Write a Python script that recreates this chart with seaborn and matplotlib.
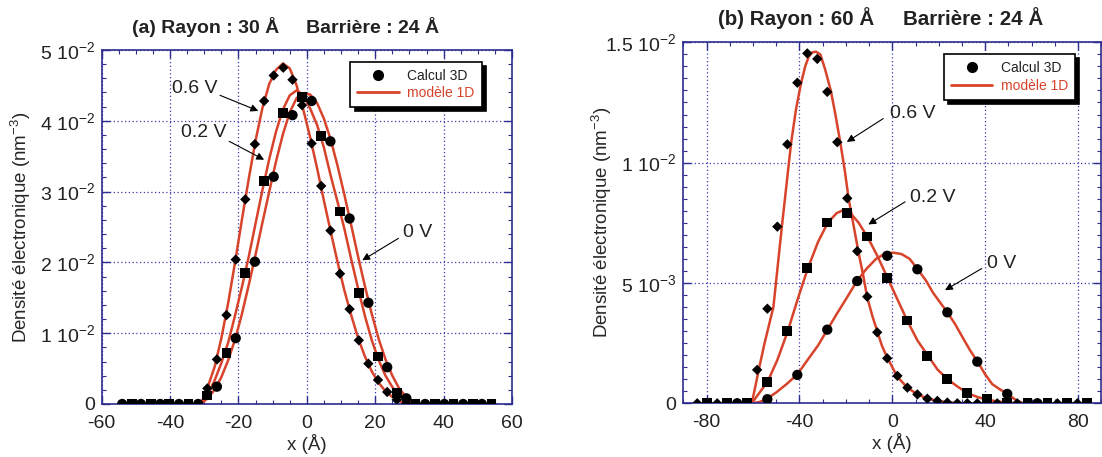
import numpy as np
import pandas as pd
import matplotlib
matplotlib.use("Agg")
import matplotlib.pyplot as plt
from matplotlib.ticker import MultipleLocator
from matplotlib.lines import Line2D
import seaborn as sns

# ---------------- data: panel (a) Rayon 30 A ----------------
a_diam_x = [-54.0, -51.2, -48.5, -45.7, -42.9, -40.2, -37.4, -34.6, -31.8, -29.1,
            -26.3, -23.5, -20.8, -18.0, -15.2, -12.5, -9.7, -6.9, -4.2, -1.4,
            1.4, 4.2, 6.9, 9.7, 12.5, 15.2, 18.0, 20.8, 23.5, 26.3,
            29.1, 31.8, 34.6, 37.4, 40.2, 42.9, 45.7, 48.5, 51.2, 54.0]
a_diam_y = [0, 0, 0, 0, 0, 0, 0, 0, 0, 0.0022,
            0.0063, 0.01256, 0.0204, 0.0289, 0.0367, 0.0428, 0.0464, 0.0475, 0.0458, 0.0422,
            0.0368, 0.0308, 0.0245, 0.0184, 0.0134, 0.0090, 0.0057, 0.0034, 0.0017, 0.0006,
            0.0001, 0, 0, 0, 0, 0, 0, 0, 0, 0]
a_circ_x = [-54.0, -48.5, -42.9, -37.4, -31.8, -26.3, -20.8, -15.2, -9.7, -4.2,
            1.4, 6.9, 12.5, 18.0, 23.5, 29.1, 34.6, 40.2, 45.7, 51.2]
a_circ_y = [0, 0, 0, 0, 0, 0.00245, 0.0093, 0.0201, 0.0321, 0.0408,
            0.0428, 0.0371, 0.0262, 0.0143, 0.0052, 0.0008, 0, 0, 0, 0]
a_sq_x = [-51.2, -45.7, -40.2, -34.6, -29.1, -23.5, -18.0, -12.5, -6.9, -1.4,
          4.2, 9.7, 15.2, 20.8, 26.3, 31.8, 37.4, 42.9, 48.5, 54.0]
a_sq_y = [0, 0, 0, 0, 0.0012, 0.00725, 0.01855, 0.0315, 0.0411, 0.0434,
          0.0378, 0.0272, 0.0157, 0.0067, 0.0016, 0, 0, 0, 0, 0]

a_model_x = [-31, -29, -27, -25, -23, -21, -19, -17, -15, -13, -11, -9, -7, -5, -3, -1,
             1, 3, 5, 7, 9, 11, 13, 15, 17, 19, 21, 23, 25, 27, 29, 31]
a_model_06 = [0.0, 0.0024, 0.0052, 0.0093, 0.0143, 0.0200, 0.0260, 0.0318, 0.0372, 0.0418,
              0.0452, 0.0472, 0.0481, 0.0474, 0.0450, 0.0415, 0.0376, 0.0333, 0.0287, 0.0243,
              0.0200, 0.0160, 0.0125, 0.0093, 0.0067, 0.0046, 0.0030, 0.0018, 0.0010, 0.0004,
              0.0001, 0.0]
a_model_02 = [0.0, 0.0013, 0.0033, 0.0058, 0.0087, 0.0125, 0.0165, 0.0208, 0.0255, 0.0302,
              0.0346, 0.0385, 0.0416, 0.0436, 0.0443, 0.0436, 0.0417, 0.0394, 0.0362, 0.0322,
              0.0285, 0.0247, 0.0204, 0.0163, 0.0124, 0.0090, 0.0062, 0.0040, 0.0024, 0.0012,
              0.0005, 0.0001]
a_model_00 = [0.0, 0.0008, 0.0020, 0.0038, 0.0062, 0.0091, 0.0127, 0.0168, 0.0211, 0.0256,
              0.0300, 0.0343, 0.0381, 0.0412, 0.0432, 0.0439, 0.0437, 0.0425, 0.0403, 0.0373,
              0.0336, 0.0295, 0.0252, 0.0208, 0.0166, 0.0127, 0.0092, 0.0063, 0.0040, 0.0022,
              0.0010, 0.0002]

# ---------------- data: panel (b) Rayon 60 A ----------------
b_diam_x = [-84.0, -79.7, -75.4, -71.1, -66.8, -62.5, -58.2, -53.8, -49.5, -45.2,
            -40.9, -36.6, -32.3, -28.0, -23.7, -19.4, -15.1, -10.8, -6.5, -2.2,
            2.2, 6.5, 10.8, 15.1, 19.4, 23.7, 28.0, 32.3, 36.6, 40.9,
            45.2, 49.5, 53.8, 58.2, 62.5, 66.8, 71.1, 75.4, 79.7, 84.0]
b_diam_y = [0, 0, 0, 0, 0, 0, 0.00139, 0.00393, 0.00734, 0.01076,
            0.01332, 0.01454, 0.01431, 0.01294, 0.01085, 0.00852, 0.00632, 0.00443, 0.00295, 0.00187,
            0.00114, 0.00065, 0.00037, 0.00019, 0.0001, 0.00003, 0, 0, 0, 0,
            0, 0, 0, 0, 0, 0, 0, 0, 0, 0]
b_circ_x = [-79.7, -66.8, -53.8, -40.9, -28.0, -15.1, -2.2, 10.8, 23.7, 36.6, 49.5, 62.5, 75.4]
b_circ_y = [0, 0, 0.00017, 0.00118, 0.00306, 0.00508, 0.00613, 0.00557, 0.00378, 0.00173,
            0.00039, 0, 0]
b_sq_x = [-79.7, -71.1, -62.5, -53.8, -45.2, -36.6, -28.0, -19.4, -10.8, -2.2,
          6.5, 15.1, 23.7, 32.3, 40.9, 49.5, 58.2, 66.8, 75.4, 84.0]
b_sq_y = [0, 0, 0, 0.00087, 0.00302, 0.00562, 0.00751, 0.00791, 0.00693, 0.00522,
          0.00344, 0.00197, 0.001, 0.00042, 0.00017, 0.00003, 0, 0, 0, 0]

b_m06_x = [-60.5, -59.2, -57.5, -55.0, -51.2, -47.6, -43.6, -41.5, -39.3, -37.5, -36.0, -34.5,
           -32.9, -31.0, -29.0, -26.5, -24.5, -22.5, -20.5, -18.8, -16.5, -14.6, -12.5, -10.8,
           -8.5, -6.5, -4.5, -2.2, 0.0, 2.2, 6.5, 10.8, 15.1, 19.4, 23.7, 28.0, 32.0]
b_m06_y = [0.0, 0.0006, 0.0014, 0.0025, 0.0040, 0.0073, 0.0108, 0.0122, 0.0133, 0.0140, 0.0144, 0.01458,
           0.01461, 0.0145, 0.0139, 0.0130, 0.0120, 0.0109, 0.0097, 0.0085, 0.0073, 0.0063, 0.0053, 0.0044,
           0.0036, 0.0030, 0.0024, 0.0019, 0.0015, 0.0011, 0.00065, 0.00037, 0.0002, 0.0001, 0.00004, 0.00001, 0.0]
b_m02_x = [-60.5, -57.5, -53.7, -49.5, -45.0, -40.5, -36.4, -32.0, -27.8, -24.0, -21.1, -18.0,
           -14.5, -10.6, -6.3, -2.0, 2.3, 6.6, 10.9, 15.2, 19.5, 23.8, 28.0, 32.4, 37.0, 41.0,
           45.0, 49.6, 54.0, 58.0]
b_m02_y = [0.0, 0.0004, 0.0009, 0.0018, 0.0030, 0.0044, 0.0056, 0.0067, 0.0075, 0.0079, 0.00803, 0.0079,
           0.0075, 0.0069, 0.0061, 0.0052, 0.0043, 0.0034, 0.0026, 0.0020, 0.0014, 0.0010, 0.0007, 0.00042,
           0.00025, 0.00015, 0.00008, 0.00003, 0.00001, 0.0]
b_m00_x = [-60.5, -57.0, -53.8, -50.0, -45.5, -40.9, -36.5, -32.0, -28.0, -24.0, -19.5, -15.1,
           -11.0, -7.0, -3.5, 0.4, 4.0, 7.5, 10.9, 14.5, 17.5, 20.5, 23.7, 27.0, 30.5, 33.5,
           36.7, 40.0, 43.0, 46.0, 49.6, 53.0, 56.4]
b_m00_y = [0.0, 0.00006, 0.0002, 0.00045, 0.0008, 0.0012, 0.0018, 0.0024, 0.00305, 0.0037, 0.0044, 0.0051,
           0.0056, 0.0060, 0.0062, 0.00626, 0.0062, 0.0060, 0.00557, 0.0051, 0.0046, 0.0042, 0.00378, 0.0033,
           0.0027, 0.0022, 0.00173, 0.0012, 0.0008, 0.0006, 0.00039, 0.00015, 0.0]

a_yticks = [0, 0.01, 0.02, 0.03, 0.04, 0.05]
a_yticklabels = ["0", "1 10$^{-2}$", "2 10$^{-2}$", "3 10$^{-2}$", "4 10$^{-2}$", "5 10$^{-2}$"]
a_xticks = [-60, -40, -20, 0, 20, 40, 60]
b_yticks = [0, 0.005, 0.01, 0.015]
b_yticklabels = ["0", "5 10$^{-3}$", "1 10$^{-2}$", "1.5 10$^{-2}$"]
b_xticks = [-80, -40, 0, 40, 80]

# ---------------- style ----------------
sns.set_style("white")
plt.rcParams["font.family"] = ["Liberation Sans", "DejaVu Sans"]
plt.rcParams["mathtext.fontset"] = "custom"
plt.rcParams["mathtext.rm"] = "Liberation Sans"
plt.rcParams["mathtext.it"] = "Liberation Sans"

RED = "#d8432b"
SPINE = "#2e2e8f"
GRID = "#3b3bb0"

W, H = 1102, 457
fig = plt.figure(figsize=(W / 100, H / 100), dpi=100)

def px_axes(l, t, r, b):
    return fig.add_axes([l / W, (H - b) / H, (r - l) / W, (b - t) / H])

ax1 = px_axes(101.7, 50, 512, 404)
ax2 = px_axes(683.3, 42.3, 1101.3, 403.3)


def style_axes(ax, xlim, ylim, xticks, xminor, yticks, ylabels, yminor):
    ax.set_xlim(*xlim)
    ax.set_ylim(*ylim)
    ax.set_xticks(xticks)
    ax.set_xticklabels([str(t) for t in xticks])
    ax.xaxis.set_minor_locator(MultipleLocator(xminor))
    ax.set_yticks(yticks)
    ax.set_yticklabels(ylabels)
    ax.yaxis.set_minor_locator(MultipleLocator(yminor))
    ax.tick_params(which="both", direction="in", top=True, right=True, bottom=True, left=True,
                   color=SPINE, labelsize=14, labelcolor="#222222")
    ax.tick_params(which="major", length=6, width=1)
    ax.tick_params(axis="x", which="major", pad=8)
    ax.tick_params(axis="y", which="major", pad=5)
    ax.tick_params(which="minor", length=3, width=0.8)
    for s in ax.spines.values():
        s.set_color(SPINE)
        s.set_linewidth(1.2)
        s.set_visible(True)
    ax.grid(True, which="major", linestyle=(0, (1, 2)), color=GRID, linewidth=0.9)
    ax.set_axisbelow(True)
    ax.set_xlabel("x (Å)", fontsize=13.5, labelpad=1)
    ax.set_ylabel("Densité électronique (nm$^{-3}$)", fontsize=13.5)


def draw_panel(ax, models, dx, dy, cx, cy, sx, sy):
    for mx, my in models:
        sns.lineplot(x=mx, y=my, ax=ax, color=RED, linewidth=1.8, sort=False,
                     estimator=None, zorder=2)
    sns.scatterplot(x=dx, y=dy, ax=ax, marker="D", s=28, color="black",
                    edgecolor="none", linewidth=0, zorder=3)
    sns.scatterplot(x=cx, y=cy, ax=ax, marker="o", s=55, color="black",
                    edgecolor="none", linewidth=0, zorder=4)
    sns.scatterplot(x=sx, y=sy, ax=ax, marker="s", s=50, color="black",
                    edgecolor="none", linewidth=0, zorder=5)


draw_panel(ax1, [(a_model_x, a_model_06), (a_model_x, a_model_02), (a_model_x, a_model_00)],
           a_diam_x, a_diam_y, a_circ_x, a_circ_y, a_sq_x, a_sq_y)
draw_panel(ax2, [(b_m06_x, b_m06_y), (b_m02_x, b_m02_y), (b_m00_x, b_m00_y)],
           b_diam_x, b_diam_y, b_circ_x, b_circ_y, b_sq_x, b_sq_y)

style_axes(ax1, (-60, 60), (0, 0.05), a_xticks, 5, a_yticks, a_yticklabels, 0.002)
style_axes(ax2, (-90, 90), (0, 0.015), b_xticks, 10, b_yticks, b_yticklabels, 0.0005)

ax1.yaxis.set_label_coords(-0.168, 0.5, transform=ax1.transAxes)
ax2.yaxis.set_label_coords(-0.166, 0.5, transform=ax2.transAxes)

# legends
def add_legend(ax, anchor):
    handles = [Line2D([], [], marker="o", linestyle="none", color="black", markersize=7),
               Line2D([], [], color=RED, linewidth=2)]
    leg = ax.legend(handles, ["Calcul 3D", "modèle 1D"], loc="upper right",
                    bbox_to_anchor=anchor, fontsize=10, handlelength=3.0,
                    fancybox=False, frameon=True, edgecolor="black",
                    shadow={"color": "black", "alpha": 1.0, "ox": 3, "oy": -3},
                    borderpad=0.5, labelspacing=0.25, handletextpad=0.6,
                    borderaxespad=0)
    leg.get_frame().set_linewidth(1.2)
    leg.get_texts()[0].set_color("#222222")
    leg.get_texts()[1].set_color(RED)
    leg.set_zorder(10)

add_legend(ax1, (0.926, 0.967))
add_legend(ax2, (0.937, 0.967))

# annotations
arrow = dict(arrowstyle="-|>", color="black", lw=0.8, mutation_scale=11,
             shrinkA=0, shrinkB=0)
def label(ax, txt, tx, ty, ax0, ay0, ax1_, ay1_):
    ax.text(tx, ty, txt, fontsize=14, ha="left", va="center", color="#222222", zorder=8)
    ax.annotate("", xy=(ax1_, ay1_), xytext=(ax0, ay0), arrowprops=arrow, zorder=8)

label(ax1, "0.6 V", -39.4, 0.0446, -25.4, 0.0436, -14.2, 0.0414)
label(ax1, "0.2 V", -36.7, 0.0383, -22.7, 0.0371, -12.5, 0.0345)
label(ax1, "0 V", 28.2, 0.0242, 26.8, 0.0234, 16.2, 0.0203)

label(ax2, "0.6 V", -1.0, 0.01204, -3.9, 0.01183, -19.6, 0.01086)
label(ax2, "0.2 V", 7.6, 0.00857, 5.5, 0.00837, -10.3, 0.00743)
label(ax2, "0 V", 40.6, 0.00581, 38.5, 0.0056, 22.7, 0.0047)

# titles
fig.text(286 / W, 1 - 27 / H, "(a) Rayon : 30 Å     Barrière : 24 Å", ha="center", va="center",
         fontsize=14, fontweight="bold", color="#222222")
fig.text(881 / W, 1 - 18 / H, "(b) Rayon : 60 Å     Barrière : 24 Å", ha="center", va="center",
         fontsize=14.8, fontweight="bold", color="#222222")

fig.savefig("out.png", dpi=100)
